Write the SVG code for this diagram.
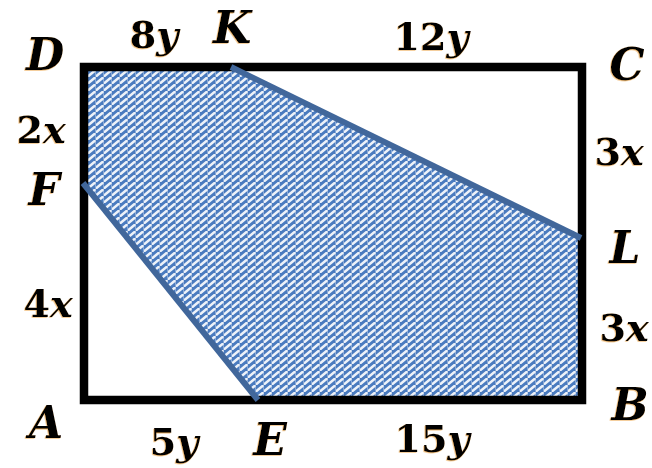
<svg xmlns="http://www.w3.org/2000/svg" width="652" height="468" viewBox="0 0 652 468">
  <defs>
    <pattern id="hatch" width="8" height="7" patternUnits="userSpaceOnUse">
      <rect width="8" height="7" fill="#4a7bbf"/>
      <path d="M0.5,6 L6.5,1" stroke="#ffffff" stroke-width="2.4" stroke-opacity="0.9" stroke-linecap="round"/>
      <path d="M7.5,0 L7.5,7" stroke="#ffffff" stroke-width="1" stroke-opacity="0.35"/>
    </pattern>
    <filter id="glow" x="-20%" y="-20%" width="140%" height="140%">
      <feDropShadow dx="-0.8" dy="0.8" stdDeviation="0.6" flood-color="#e89a30" flood-opacity="0.6"/>
    </filter>
  </defs>
  <style>
    .lbl { font-family: "DejaVu Serif", "Liberation Serif", serif; font-weight: bold; fill: #000; text-anchor: middle; filter: url(#glow); }
    .pt { font-size: 44px; font-style: italic; }
    .len { font-size: 38px; }
    .var { font-style: italic; }
    .edge { stroke: #41679b; stroke-width: 6; stroke-linecap: butt; fill: none; }
  </style>
  <rect width="652" height="468" fill="#ffffff"/>

  <g id="shaded-region">
    <polygon points="84,67 231,67 581,238 582,400 258,400 84,183" fill="url(#hatch)"/>
  </g>

  <g id="rectangle-ABCD">
    <rect x="84" y="67" width="498" height="333" fill="none" stroke="#000" stroke-width="8.5" stroke-linejoin="miter"/>
  </g>

  <g id="connectors">
    <line class="edge" x1="231" y1="67" x2="581" y2="238"/>
    <line class="edge" x1="83" y1="183" x2="258" y2="400"/>
  </g>

  <g id="point-labels">
    <text id="label-D" class="lbl pt" x="45" y="70">D</text>
    <text id="label-K" class="lbl pt" x="232" y="43">K</text>
    <text id="label-C" class="lbl pt" x="627" y="80">C</text>
    <text id="label-F" class="lbl pt" x="44" y="205">F</text>
    <text id="label-L" class="lbl pt" x="625" y="263">L</text>
    <text id="label-A" class="lbl pt" x="46" y="438">A</text>
    <text id="label-E" class="lbl pt" x="270" y="455">E</text>
    <text id="label-B" class="lbl pt" x="630" y="420">B</text>
  </g>

  <g id="length-labels">
    <text class="lbl len" x="154" y="48">8<tspan class="var">y</tspan></text>
    <text class="lbl len" x="431" y="50">12<tspan class="var">y</tspan></text>
    <text class="lbl len" x="41" y="143">2<tspan class="var">x</tspan></text>
    <text class="lbl len" x="48" y="317">4<tspan class="var">x</tspan></text>
    <text class="lbl len" x="619" y="165">3<tspan class="var">x</tspan></text>
    <text class="lbl len" x="624" y="341">3<tspan class="var">x</tspan></text>
    <text class="lbl len" x="174" y="455">5<tspan class="var">y</tspan></text>
    <text class="lbl len" x="432" y="452">15<tspan class="var">y</tspan></text>
  </g>
</svg>
